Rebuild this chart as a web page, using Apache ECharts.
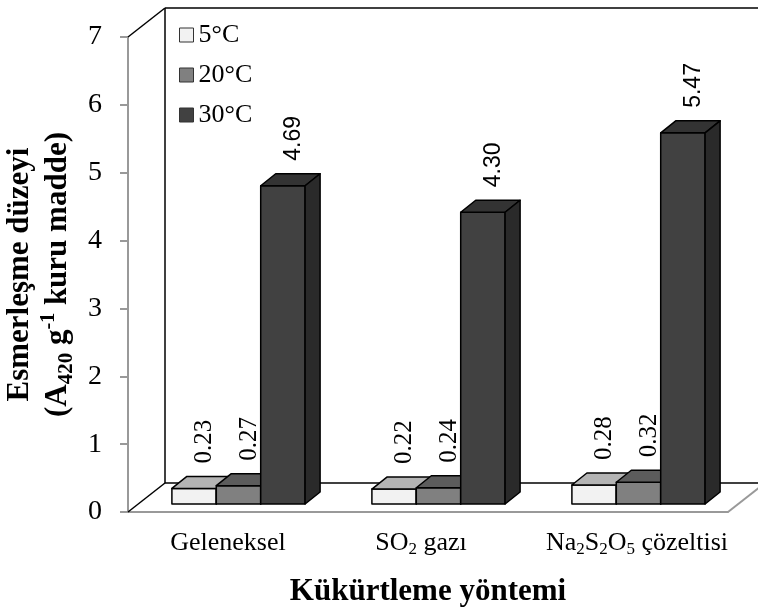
<!DOCTYPE html>
<html>
<head>
<meta charset="utf-8">
<script src="https://cdn.jsdelivr.net/npm/echarts@6/dist/echarts.min.js"></script>
<style>html,body{margin:0;padding:0;background:#fff}#c{width:758px;height:615px}</style>
</head>
<body>
<div id="c"></div>
<script>
const categories = ['Geleneksel', 'SO2 gazı', 'Na2S2O5 çözeltisi'];
const categoryLabels = ['{m|Geleneksel}', '{m|SO}{sub|2}{m| gazı}{gapR| }', '{gapL| }{m|Na}{sub|2}{m|S}{sub|2}{m|O}{sub|5}{m| çözeltisi}'];
const seriesNames = ['5°C', '20°C', '30°C'];
const values5 = [0.23, 0.22, 0.28];
const values20 = [0.27, 0.24, 0.32];
const values30 = [4.69, 4.30, 5.47];
const yMin = 0, yMax = 7, yStep = 1;

const SERIF = '"Liberation Serif", "Times New Roman", serif';
const SANS = '"Liberation Sans", Arial, sans-serif';

const looks = [
  { front: '#f2f2f2', top: '#b4b4b4', side: '#c8c8c8', labelFont: '25px ' + SERIF },
  { front: '#808080', top: '#5c5c5c', side: '#666666', labelFont: '25px ' + SERIF },
  { front: '#414141', top: '#333333', side: '#2a2a2a', labelFont: '23px ' + SANS }
];

// oblique depth of the floor/walls and bars
const WALL_DX = 37, WALL_DY = 29;
const BAR_OFF_DX = 10.5, BAR_OFF_DY = 8;
const BAR_DX = 15, BAR_DY = 12;

function barRenderer(s) {
  const lk = looks[s];
  return function (params, api) {
    const i = api.value(0), v = api.value(1);
    const base = api.coord([i, 0]);
    const top = api.coord([i, v]);
    const band = api.size([1, 0])[0];
    const bw = band * 0.222;
    const x0 = base[0] - 1.5 * bw + s * bw + BAR_OFF_DX;
    const yb = base[1] - BAR_OFF_DY;
    const yt = top[1] - BAR_OFF_DY;
    const ls = { stroke: '#000', lineWidth: 1.5, lineJoin: 'round' };
    return {
      type: 'group',
      children: [
        { type: 'rect', shape: { x: x0, y: yt, width: bw, height: yb - yt },
          style: Object.assign({ fill: lk.front }, ls) },
        { type: 'polygon', shape: { points: [[x0, yt], [x0 + BAR_DX, yt - BAR_DY], [x0 + bw + BAR_DX, yt - BAR_DY], [x0 + bw, yt]] },
          style: Object.assign({ fill: lk.top }, ls) },
        { type: 'polygon', shape: { points: [[x0 + bw, yt], [x0 + bw + BAR_DX, yt - BAR_DY], [x0 + bw + BAR_DX, yb - BAR_DY], [x0 + bw, yb]] },
          style: Object.assign({ fill: lk.side }, ls) },
        { type: 'text', x: x0 + bw / 2 + BAR_DX / 2 + 3, y: yt - 25, rotation: Math.PI / 2,
          style: { text: v.toFixed(2), font: lk.labelFont, fill: '#000', align: 'left', verticalAlign: 'middle' } }
      ]
    };
  };
}

function frameRenderer(params, api) {
  const c = params.coordSys;
  const x = c.x, y = c.y, w = c.width, h = c.height;
  const blk = { stroke: '#000', lineWidth: 1.5 };
  const gry = { stroke: '#999', lineWidth: 2 };
  const line = (x1, y1, x2, y2, st) => ({ type: 'line', shape: { x1, y1, x2, y2 }, style: st });
  return {
    type: 'group',
    children: [
      line(x + WALL_DX, y - WALL_DY, x + WALL_DX, y + h - WALL_DY, blk),
      line(x + WALL_DX, y - WALL_DY, x + w + WALL_DX, y - WALL_DY, blk),
      line(x + WALL_DX, y + h - WALL_DY, x + w + WALL_DX, y + h - WALL_DY, blk),
      line(x, y, x + WALL_DX, y - WALL_DY, blk),
      line(x, y + h, x + WALL_DX, y + h - WALL_DY, blk),
      line(x + w, y + h, x + w + WALL_DX, y + h - WALL_DY, gry)
    ]
  };
}

const allValues = [values5, values20, values30];
const series = [{
  type: 'custom', name: 'frame', silent: true, z: 1,
  renderItem: frameRenderer, data: [[0, 0]]
}];
allValues.forEach((vals, s) => {
  series.push({
    type: 'custom', name: seriesNames[s], z: 2 + s,
    itemStyle: { color: looks[s].front, borderColor: '#000', borderWidth: 1 },
    renderItem: barRenderer(s),
    encode: { x: 0, y: 1 },
    data: vals.map((v, i) => [i, v])
  });
});

const chart = echarts.init(document.getElementById('c'), null, { renderer: 'canvas' });
chart.setOption({
  backgroundColor: '#fff',
  animation: false,
  grid: { left: 128, right: 30, top: 37, bottom: 103, containLabel: false, outerBoundsMode: 'none' },
  legend: {
    data: seriesNames, orient: 'vertical', left: 179, top: 22, padding: 0,
    itemWidth: 14, itemHeight: 14, itemGap: 14, icon: 'rect',
    itemStyle: { borderColor: '#333', borderWidth: 1 },
    textStyle: { fontFamily: SERIF, fontSize: 26, color: '#000' },
    selectedMode: false
  },
  xAxis: {
    type: 'category', data: categories,
    axisLine: { lineStyle: { color: '#999', width: 2 } },
    axisTick: { show: false },
    axisLabel: {
      interval: 0, hideOverlap: false,
      margin: 16, color: '#000', fontFamily: SERIF, fontSize: 26,
      formatter: (val, idx) => categoryLabels[idx],
      rich: {
        m: { fontFamily: SERIF, fontSize: 26, lineHeight: 30, color: '#000' },
        sub: { fontFamily: SERIF, fontSize: 17, lineHeight: 13, verticalAlign: 'bottom', color: '#000' },
        gapR: { fontSize: 10, width: 14, lineHeight: 30 },
        gapL: { fontSize: 10, width: 18, lineHeight: 30 }
      }
    },
    name: 'Kükürtleme yöntemi', nameLocation: 'middle', nameGap: 64,
    nameTextStyle: { fontFamily: SERIF, fontSize: 31, fontWeight: 'bold', color: '#000' }
  },
  yAxis: {
    type: 'value', min: yMin, max: yMax, interval: yStep,
    axisLine: { show: true, lineStyle: { color: '#999', width: 2 } },
    axisTick: { show: true, length: 8, lineStyle: { color: '#999', width: 2 } },
    splitLine: { show: false },
    axisLabel: { margin: 26, color: '#000', fontFamily: SERIF, fontSize: 28 },
    name: 'Esmerleşme düzeyi\n({b|A}{bs|420}{b| g}{bp|-1}{b| kuru madde)}',
    nameLocation: 'middle', nameRotate: 90, nameGap: 46,
    nameTextStyle: {
      fontFamily: SERIF, fontSize: 31, fontWeight: 'bold', color: '#000', lineHeight: 38,
      rich: {
        b: { fontFamily: SERIF, fontSize: 31, fontWeight: 'bold', color: '#000', lineHeight: 38 },
        bs: { fontFamily: SERIF, fontSize: 21, fontWeight: 'bold', color: '#000', lineHeight: 22, verticalAlign: 'bottom' },
        bp: { fontFamily: SERIF, fontSize: 20, fontWeight: 'bold', color: '#000', lineHeight: 26, verticalAlign: 'top' }
      }
    }
  },
  series: series
});
</script>
</body>
</html>
